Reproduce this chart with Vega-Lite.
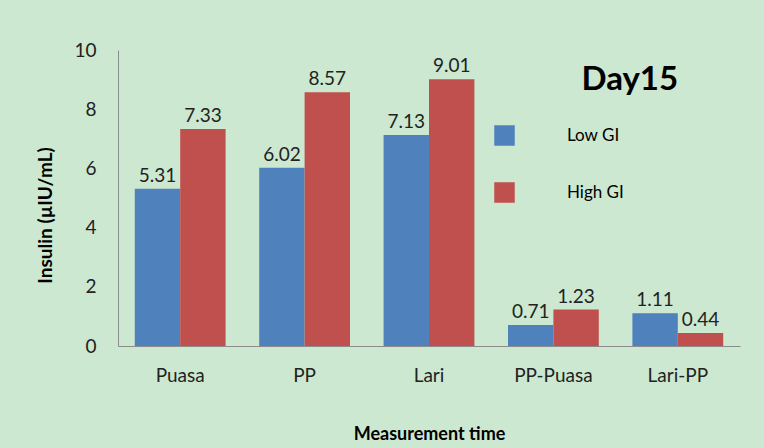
{
  "$schema": "https://vega.github.io/schema/vega-lite/v6.json",
  "width": 622,
  "height": 296,
  "autosize": {"type": "none"},
  "padding": {"left": 118, "top": 50, "right": 24, "bottom": 102},
  "background": "#cce8d0",
  "config": {"view": {"stroke": null}, "font": "Lato"},
  "datasets": {
    "bars": [
      {"time": "Puasa", "group": "Low GI", "value": 5.31},
      {"time": "Puasa", "group": "High GI", "value": 7.33},
      {"time": "PP", "group": "Low GI", "value": 6.02},
      {"time": "PP", "group": "High GI", "value": 8.57},
      {"time": "Lari", "group": "Low GI", "value": 7.13},
      {"time": "Lari", "group": "High GI", "value": 9.01},
      {"time": "PP-Puasa", "group": "Low GI", "value": 0.71},
      {"time": "PP-Puasa", "group": "High GI", "value": 1.23},
      {"time": "Lari-PP", "group": "Low GI", "value": 1.11},
      {"time": "Lari-PP", "group": "High GI", "value": 0.44}
    ],
    "heading": [{"label": "Day15", "time": "Lari-PP", "value": 9}]
  },
  "layer": [
    {
      "data": {"name": "bars"},
      "mark": {"type": "bar"},
      "encoding": {
        "x": {
          "field": "time", "type": "nominal",
          "sort": ["Puasa", "PP", "Lari", "PP-Puasa", "Lari-PP"],
          "scale": {"paddingInner": 0.27, "paddingOuter": 0.135},
          "axis": {"labelAngle": 0, "ticks": false, "domainColor": "#8c8c8c", "labelFontSize": 19, "labelColor": "#222", "labelPadding": 20,
                   "title": "Measurement time", "titleFontSize": 18, "titleFontWeight": "bold", "titleColor": "black", "titlePadding": 40}
        },
        "xOffset": {"field": "group", "type": "nominal", "sort": ["Low GI", "High GI"]},
        "y": {
          "field": "value", "type": "quantitative",
          "scale": {"domain": [0, 10]},
          "axis": {"values": [0, 2, 4, 6, 8, 10], "grid": false, "ticks": false, "domainColor": "#8c8c8c", "labelFontSize": 19, "labelColor": "#222", "labelPadding": 22,
                   "title": "Insulin (µIU/mL)", "titleFontSize": 19, "titleFontWeight": "bold", "titleColor": "black", "titlePadding": 18, "titleY": 165}
        },
        "color": {
          "field": "group", "type": "nominal",
          "scale": {"domain": ["Low GI", "High GI"], "range": ["#4f81bd", "#c0504d"]},
          "legend": {"orient": "none", "legendX": 376, "legendY": 75, "title": null, "symbolType": "square", "symbolSize": 420, "symbolStrokeWidth": 0,
                     "labelFontSize": 17, "labelColor": "black", "labelOffset": 52, "rowPadding": 36}
        }
      }
    },
    {
      "data": {"name": "bars"},
      "mark": {"type": "text", "baseline": "bottom", "dy": -3, "fontSize": 19, "color": "#222"},
      "encoding": {
        "x": {"field": "time", "type": "nominal", "sort": ["Puasa", "PP", "Lari", "PP-Puasa", "Lari-PP"]},
        "xOffset": {"field": "group", "type": "nominal", "sort": ["Low GI", "High GI"]},
        "y": {"field": "value", "type": "quantitative"},
        "text": {"field": "value", "type": "quantitative", "format": ".2f"}
      }
    },
    {
      "data": {"name": "heading"},
      "mark": {"type": "text", "fontSize": 33, "fontWeight": "bold", "color": "black", "dx": -48, "baseline": "middle"},
      "encoding": {
        "x": {"field": "time", "type": "nominal", "sort": ["Puasa", "PP", "Lari", "PP-Puasa", "Lari-PP"]},
        "y": {"field": "value", "type": "quantitative"},
        "text": {"field": "label", "type": "nominal"}
      }
    }
  ]
}
